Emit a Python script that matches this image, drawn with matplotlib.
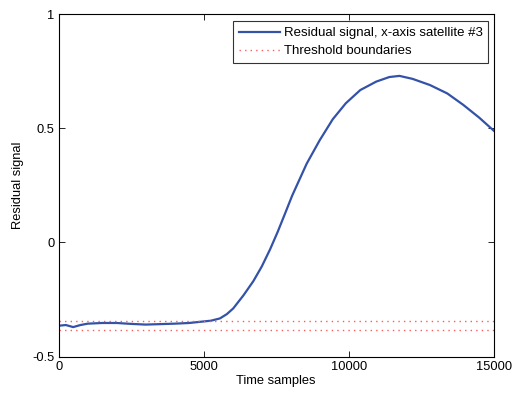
import matplotlib
matplotlib.use("Agg")
import matplotlib.pyplot as plt
from matplotlib.ticker import FixedLocator, FixedFormatter

plt.rcParams['font.family'] = ['Liberation Sans', 'DejaVu Sans']

# Residual signal samples (time sample, value)
t_samples = [0, 250, 500, 750, 1000, 1500, 2000, 2500, 3000, 3500, 4000, 4500,
             4870, 5250, 5560, 5800, 6020, 6370, 6710, 7000, 7290, 7550, 7800,
             8050, 8550, 9000, 9450, 9900, 10400, 10950, 11400, 11750, 12200,
             12800, 13400, 13950, 14500, 15000]
residual = [-0.365, -0.362, -0.371, -0.362, -0.356, -0.353, -0.353, -0.357,
            -0.360, -0.358, -0.356, -0.353, -0.348, -0.343, -0.333, -0.314,
            -0.289, -0.232, -0.170, -0.106, -0.030, 0.046, 0.125, 0.205,
            0.345, 0.448, 0.540, 0.610, 0.668, 0.705, 0.725, 0.730, 0.717,
            0.690, 0.653, 0.603, 0.547, 0.490]

# Threshold boundaries
upper_threshold = -0.345
lower_threshold = -0.385
x_range = [0, 15000]

xticks = [0, 5000, 10000, 15000]
xtick_labels = ['0', '5000', '10000', '15000']
yticks = [-0.5, 0, 0.5, 1]
ytick_labels = ['-0.5', '0', '0.5', '1']

fig = plt.figure(figsize=(5.12, 3.96), dpi=100)
ax = fig.add_axes([0.1146, 0.0997, 0.8497, 0.8642])

ax.plot(t_samples, residual, color='#3352a8', lw=1.6,
        label='Residual signal, x-axis satellite #3')
ax.plot(x_range, [upper_threshold, upper_threshold], color='#ff5a5a',
        lw=1.0, ls=(0, (1, 3)), label='Threshold boundaries')
ax.plot(x_range, [lower_threshold, lower_threshold], color='#ff5a5a',
        lw=1.0, ls=(0, (1, 3)))

ax.set_xlim(0, 15000)
ax.set_ylim(-0.5, 1)
ax.xaxis.set_major_locator(FixedLocator(xticks))
ax.xaxis.set_major_formatter(FixedFormatter(xtick_labels))
ax.yaxis.set_major_locator(FixedLocator(yticks))
ax.yaxis.set_major_formatter(FixedFormatter(ytick_labels))
ax.tick_params(direction='in', top=True, right=True, length=4, width=0.6,
               labelsize=9.3, pad=3)
for s in ax.spines.values():
    s.set_linewidth(0.8)

ax.set_xlabel('Time samples', fontsize=9.3, labelpad=2)
ax.set_ylabel('Residual signal', fontsize=9.3, labelpad=6)

leg = ax.legend(loc='upper right', fontsize=9.5, frameon=True, fancybox=False,
                edgecolor='black', borderpad=0.45, handlelength=3.1,
                handletextpad=0.25, labelspacing=0.45, borderaxespad=0,
                bbox_to_anchor=(0.9876, 0.980))
leg.get_frame().set_linewidth(0.8)

fig.savefig('out.png', dpi=100)
